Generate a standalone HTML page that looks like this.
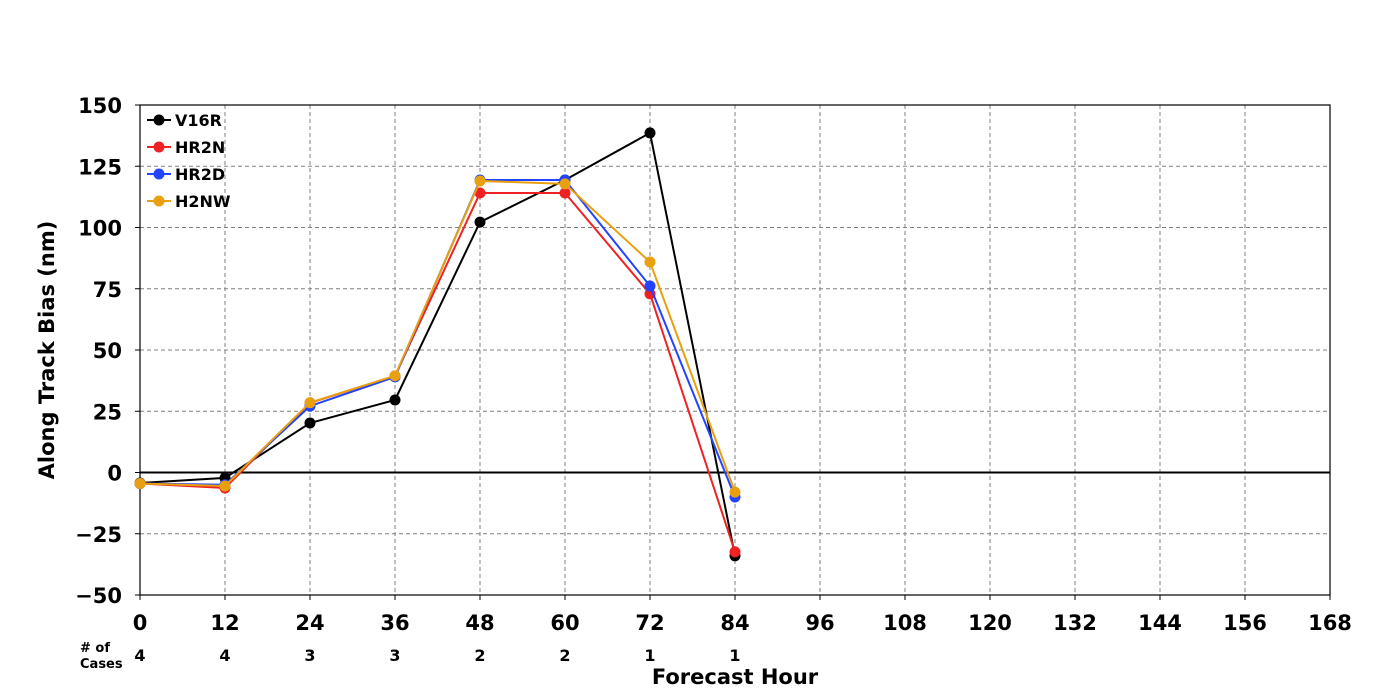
<!DOCTYPE html>
<html><head><meta charset="utf-8">
<style>
html,body{margin:0;padding:0;background:#fff;}
svg{display:block;font-family:"DejaVu Sans","Liberation Sans",sans-serif;}
</style></head>
<body>
<svg id="chart" width="1400" height="700" xmlns="http://www.w3.org/2000/svg"></svg>
<script>
const hours = [0,12,24,36,48,60,72,84];
const xTicks = [0,12,24,36,48,60,72,84,96,108,120,132,144,156,168];
const yTicks = [-50,-25,0,25,50,75,100,125,150];
const yTickLabels = ["\u221250","\u221225","0","25","50","75","100","125","150"];
const cases = [4,4,3,3,2,2,1,1];
const seriesNames = ["V16R","HR2N","HR2D","H2NW"];
const seriesColors = ["#000000","#ee2222","#2244ff","#e8a010"];
const v16r = [-4.3,-2.2,20.2,29.6,102.2,119.4,138.6,-34];
const hr2n = [-4.5,-6.3,28.4,39.4,114.1,114.1,72.9,-32.4];
const hr2d = [-4.5,-5,27.1,39,119.4,119.4,76.1,-10];
const h2nw = [-4.5,-5.5,28.5,39.5,119,117.8,85.9,-8];
const seriesValues = [v16r,hr2n,hr2d,h2nw];

const NS="http://www.w3.org/2000/svg";
const svg=document.getElementById('chart');
const L=140,R=1330,T=105,B=595;
const xS=v=>L+(v-0)/(168-0)*(R-L);
const yS=v=>B-(v+50)/200*(B-T);
function mk(tag,attrs,parent){const e=document.createElementNS(NS,tag);for(const k in attrs)e.setAttribute(k,attrs[k]);(parent||svg).appendChild(e);return e;}

const grid=mk('g',{});


xTicks.forEach(t=>{if(t>0&&t<168){const l=mk('line',{x1:xS(t),x2:xS(t),y1:T,y2:B,stroke:'#808080','stroke-dasharray':'4,3','stroke-width':1},grid);

}});
yTicks.forEach(t=>{if(t>-50&&t<150&&t!==0){const l=mk('line',{x1:L,x2:R,y1:yS(t),y2:yS(t),stroke:'#808080','stroke-dasharray':'4,3','stroke-width':1},grid);

}});
const zl=mk('line',{x1:L,x2:R,y1:yS(0),y2:yS(0),stroke:'#000','stroke-width':2});


const frame=mk('rect',{x:L,y:T,width:R-L,height:B-T,fill:'none',stroke:'#000','stroke-width':1.2});



xTicks.forEach(t=>{const tk=mk('line',{x1:xS(t),x2:xS(t),y1:B,y2:B+5,stroke:'#000'});


const tx=mk('text',{x:xS(t),y:630,'text-anchor':'middle','font-size':21,'font-weight':'bold'});


tx.textContent=t;});
yTicks.forEach((t,i)=>{const tk=mk('line',{x1:L-5,x2:L,y1:yS(t),y2:yS(t),stroke:'#000'});


const tx=mk('text',{x:L-18,y:yS(t)+8,'text-anchor':'end','font-size':21,'font-weight':'bold'});


tx.textContent=yTickLabels[i];});

cases.forEach((c,i)=>{const tx=mk('text',{x:xS(hours[i]),y:661,'text-anchor':'middle','font-size':16,'font-weight':'bold'});


tx.textContent=c;});
const c1=mk('text',{x:80,y:652,'font-size':13,'font-weight':'bold'});


c1.textContent='# of';
const c2=mk('text',{x:80,y:668,'font-size':13,'font-weight':'bold'});


c2.textContent='Cases';

const xt=mk('text',{x:735,y:684,'text-anchor':'middle','font-size':21,'font-weight':'bold'});


xt.textContent='Forecast Hour';
const yt=mk('text',{x:0,y:0,'text-anchor':'middle','font-size':21,'font-weight':'bold',transform:'translate(54,350) rotate(-90)'});


yt.textContent='Along Track Bias (nm)';

seriesValues.forEach((vals,si)=>{
  const g=mk('g',{});
  
  
  const pts=vals.map((v,i)=>xS(hours[i])+','+yS(v)).join(' ');
  const pl=mk('polyline',{points:pts,fill:'none',stroke:seriesColors[si],'stroke-width':2},g);
  
  
  vals.forEach((v,i)=>{const c=mk('circle',{cx:xS(hours[i]),cy:yS(v),r:5.5,fill:seriesColors[si]},g);
  
  });
});

const leg=mk('g',{});


seriesNames.forEach((n,i)=>{const y=120+i*27;
  const ln=mk('line',{x1:147,x2:171,y1:y,y2:y,stroke:seriesColors[i],'stroke-width':2},leg);
  
  
  const c=mk('circle',{cx:159,cy:y,r:5.5,fill:seriesColors[i]},leg);
  
  
  const t=mk('text',{x:175,y:y+6,'font-size':16,'font-weight':'bold'},leg);
  
  
  t.textContent=n;});
</script>
</body></html>
